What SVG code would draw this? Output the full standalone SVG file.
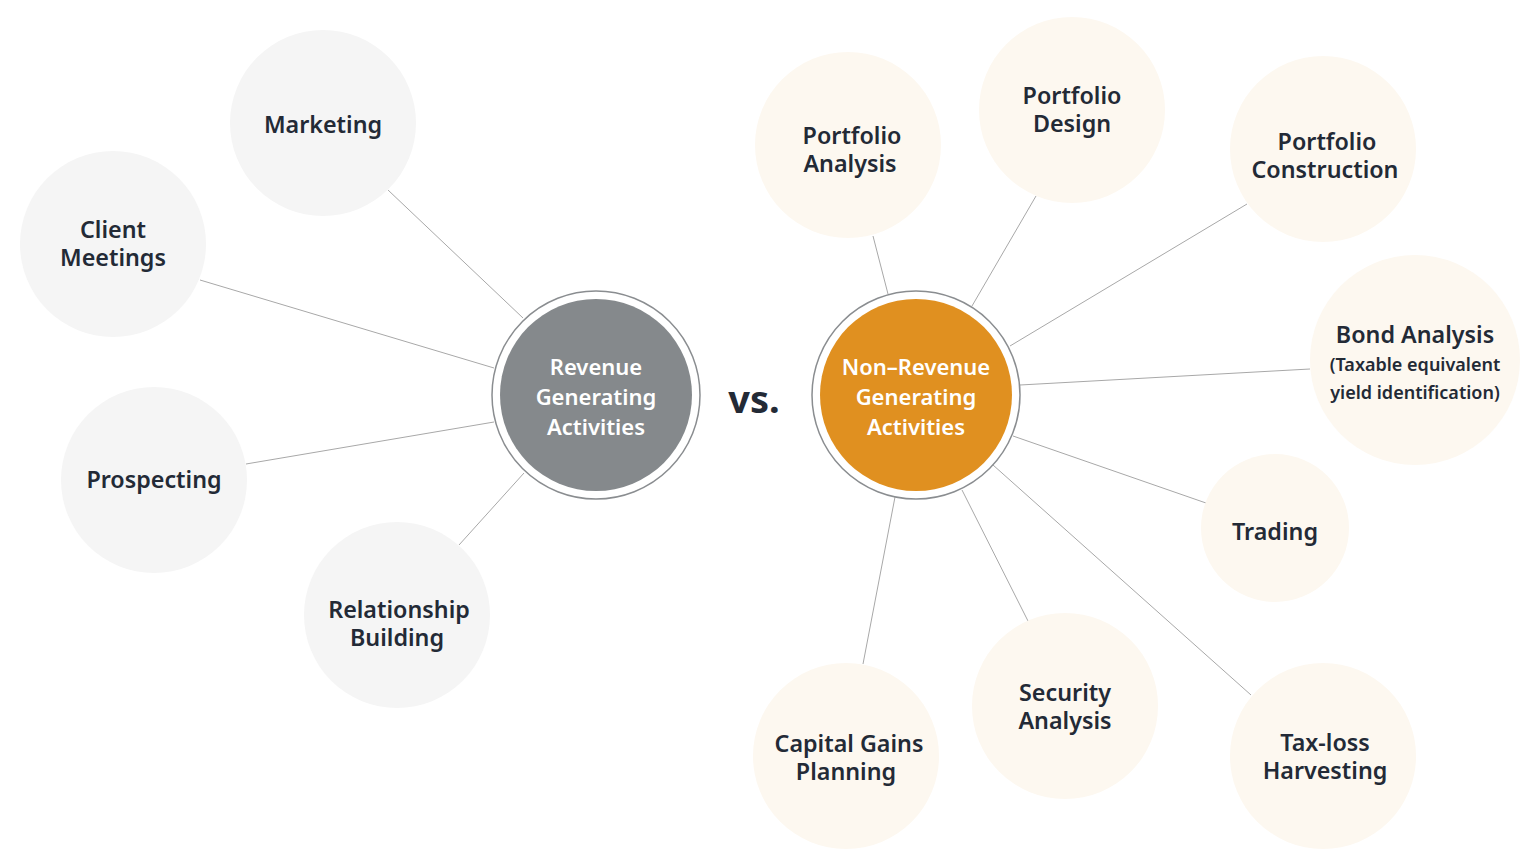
<svg xmlns="http://www.w3.org/2000/svg" width="1540" height="867" viewBox="0 0 1540 867">
<style>
.bg{fill:#ffffff}
.conn line{stroke:#a8a8a8;stroke-width:1}
.ls{fill:#f5f5f5}
.rs{fill:#fdf8f0}
.ring{fill:#ffffff;stroke:#8a8d90;stroke-width:1.5}
.t{font-family:"Noto Sans","Open Sans",sans-serif;font-weight:600;font-size:23.3px;fill:#232a36;text-anchor:middle}
.w{fill:#ffffff;font-size:22px}
.sub{font-size:18px}
.vs{font-family:"Noto Sans","Open Sans",sans-serif;font-weight:700;font-size:38px;fill:#232a36;text-anchor:middle}
</style>
<rect class="bg" x="0" y="0" width="1540" height="867"/>
<g id="connectors" class="conn">
<line x1="388" y1="190" x2="523" y2="318"/>
<line x1="200" y1="280" x2="494" y2="368"/>
<line x1="246" y1="464" x2="494" y2="422"/>
<line x1="459" y1="545" x2="524" y2="473"/>
<line x1="873" y1="236" x2="888" y2="294"/>
<line x1="1036" y1="196" x2="972" y2="306"/>
<line x1="1247" y1="204" x2="1010" y2="346"/>
<line x1="1310" y1="369" x2="1020" y2="385"/>
<line x1="1206" y1="503" x2="1013" y2="436"/>
<line x1="1251" y1="695" x2="993" y2="465"/>
<line x1="1028" y1="621" x2="962" y2="490"/>
<line x1="863" y1="664" x2="895" y2="497"/>
</g>
<g id="revenue">
<circle class="ring" cx="596" cy="395" r="104"/>
<circle cx="596" cy="395" r="96" fill="#85898c"/>
<text class="t w"><tspan x="596" y="375">Revenue</tspan><tspan x="596" y="405">Generating</tspan><tspan x="596" y="435">Activities</tspan></text>
</g>
<g id="vs"><text class="vs" x="754" y="413">vs.</text></g>
<g id="nonrevenue">
<circle class="ring" cx="916" cy="395" r="104"/>
<circle cx="916" cy="395" r="96" fill="#e09020"/>
<text class="t w"><tspan x="916" y="375">Non–Revenue</tspan><tspan x="916" y="405">Generating</tspan><tspan x="916" y="435">Activities</tspan></text>
</g>
<g id="marketing"><circle class="ls" cx="323" cy="123" r="93"/><text class="t" x="323" y="133">Marketing</text></g>
<g id="client-meetings"><circle class="ls" cx="113" cy="244" r="93"/><text class="t"><tspan x="113" y="238">Client</tspan><tspan x="113" y="266">Meetings</tspan></text></g>
<g id="prospecting"><circle class="ls" cx="154" cy="480" r="93"/><text class="t" x="154" y="488">Prospecting</text></g>
<g id="relationship-building"><circle class="ls" cx="397" cy="615" r="93"/><text class="t"><tspan x="399" y="618">Relationship</tspan><tspan x="397" y="646">Building</tspan></text></g>
<g id="portfolio-analysis"><circle class="rs" cx="848" cy="145" r="93"/><text class="t"><tspan x="852" y="144">Portfolio</tspan><tspan x="850" y="172">Analysis</tspan></text></g>
<g id="portfolio-design"><circle class="rs" cx="1072" cy="110" r="93"/><text class="t"><tspan x="1072" y="104">Portfolio</tspan><tspan x="1072" y="132">Design</tspan></text></g>
<g id="portfolio-construction"><circle class="rs" cx="1323" cy="149" r="93"/><text class="t"><tspan x="1327" y="150">Portfolio</tspan><tspan x="1325" y="178">Construction</tspan></text></g>
<g id="bond-analysis"><circle class="rs" cx="1415" cy="360" r="105"/><text class="t"><tspan x="1415" y="343">Bond Analysis</tspan><tspan class="sub" x="1415" y="371">(Taxable equivalent</tspan><tspan class="sub" x="1415" y="399">yield identification)</tspan></text></g>
<g id="trading"><circle class="rs" cx="1275" cy="528" r="74"/><text class="t" x="1275" y="540">Trading</text></g>
<g id="tax-loss-harvesting"><circle class="rs" cx="1323" cy="756" r="93"/><text class="t"><tspan x="1325" y="751">Tax-loss</tspan><tspan x="1325" y="779">Harvesting</tspan></text></g>
<g id="security-analysis"><circle class="rs" cx="1065" cy="706" r="93"/><text class="t"><tspan x="1065" y="701">Security</tspan><tspan x="1065" y="729">Analysis</tspan></text></g>
<g id="capital-gains-planning"><circle class="rs" cx="846" cy="756" r="93"/><text class="t"><tspan x="849" y="752">Capital Gains</tspan><tspan x="846" y="780">Planning</tspan></text></g>
</svg>
